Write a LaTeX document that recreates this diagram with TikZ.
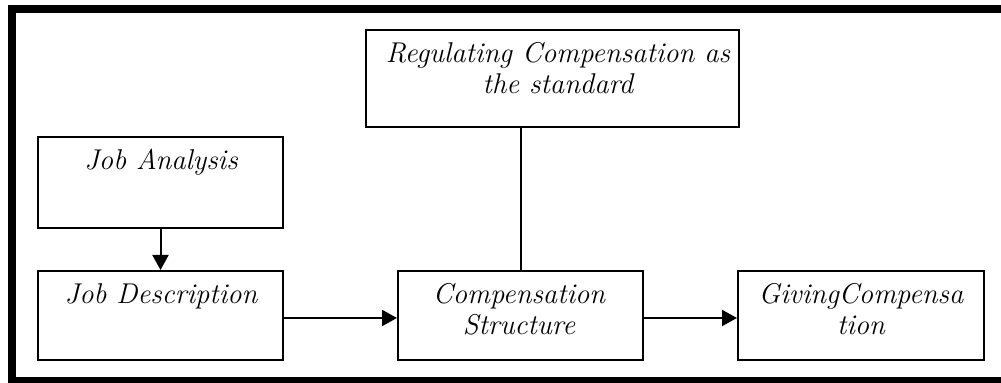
\documentclass[tikz,border=0pt]{standalone}
\usetikzlibrary{arrows.meta}
\begin{document}
\begin{tikzpicture}[x=0.5pt,y=-0.5pt,
  boxnode/.style={draw=black, line width=1pt, rectangle, inner sep=0pt},
  txt/.style={anchor=north, inner sep=0pt, align=center, font=\fontsize{14.3}{15.5}\selectfont\itshape},
  conn/.style={line width=1pt},
  arr/.style={line width=1pt, -{Triangle[length=7.5pt,width=8pt]}}]
\useasboundingbox (0,0) rectangle (1001,383);
% outer frame (open on the right)
\draw[line width=3.9pt] (1010,9) -- (12.2,9) -- (12.2,380.5) -- (1010,380.5);
% boxes
\node[boxnode, minimum width=186.5pt, minimum height=48.5pt] (reg) at (552,78.5) {};
\node[boxnode, minimum width=122.5pt, minimum height=45.5pt] (ja) at (160.5,182.5) {};
\node[boxnode, minimum width=122.5pt, minimum height=44.5pt] (jd) at (160.5,315.5) {};
\node[boxnode, minimum width=122.5pt, minimum height=44.5pt] (cs) at (520.5,315.5) {};
\node[boxnode, minimum width=123pt, minimum height=44.5pt] (gc) at (861,315.5) {};
% texts
\node[txt] (regt) at (558,42) {\rule{0pt}{10pt}Regulating Compensation as\\the standard};
\node[txt] (jat) at (161,149) {\rule{0pt}{10pt}Job Analysis};
\node[txt] (jdt) at (161,283) {\rule{0pt}{10pt}Job Description};
\node[txt] (cst) at (519,283) {\rule{0pt}{10pt}Compensation\\Structure};
\node[txt] (gct) at (861,283) {\rule{0pt}{10pt}GivingCompensa\\tion};
% connectors
\draw[arr] (ja.south) -- (jd.north);
\draw[conn] (cs.north) -- (cs.north |- reg.south);
\draw[arr] ([yshift=-1.25pt]jd.east) -- ([yshift=-1.25pt]cs.west);
\draw[arr] ([yshift=-1.25pt]cs.east) -- ([yshift=-1.25pt]gc.west);
\end{tikzpicture}
\end{document}
